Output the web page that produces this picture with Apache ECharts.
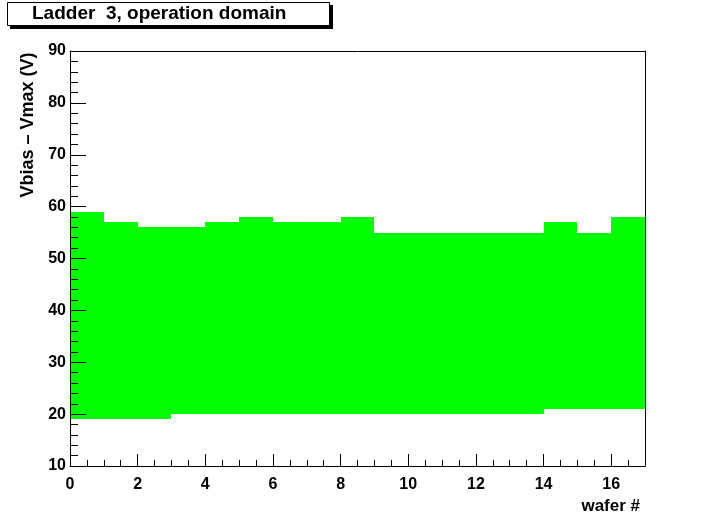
<!DOCTYPE html>
<html>
<head>
<meta charset="utf-8">
<script src="https://cdn.jsdelivr.net/npm/echarts@6/dist/echarts.min.js"></script>
<style>
html,body{margin:0;padding:0;background:#fff;}
#c{width:717px;height:519px;}
</style>
</head>
<body>
<div id="c"></div>
<script>
const titleText = "Ladder  3, operation domain";
const xTitle = "wafer #";
const yTitle = "Vbias \u2013 Vmax (V)";
const wafers = [0,1,2,3,4,5,6,7,8,9,10,11,12,13,14,15,16];
const upper = [59,57,56,56,57,58,57,57,58,55,55,55,55,55,57,55,58];
const lower = [19,19,19,20,20,20,20,20,20,20,20,20,20,20,21,21,21];

const FONT = "Liberation Sans";
const chart = echarts.init(document.getElementById('c'), null, {renderer:'canvas'});
const data = wafers.map((w,k)=>[w, lower[k], upper[k]]);
const axisCommon = {
  axisLine:{show:true, onZero:false, lineStyle:{color:'#000', width:1}},
  splitLine:{show:false}
};
chart.setOption({
  animation:false,
  backgroundColor:'#fff',
  grid:{left:70, top:51, width:575, height:415, show:false, containLabel:false},
  xAxis:[
    Object.assign({}, axisCommon, {
      type:'value', min:0, max:17, interval:2, position:'bottom', z:10,
      axisTick:{show:true, inside:true, length:12, lineStyle:{color:'#000'}},
      minorTick:{show:true, splitNumber:4, length:6, lineStyle:{color:'#000'}},
      axisLabel:{show:true, showMaxLabel:false, margin:11, color:'#000', fontFamily:FONT, fontWeight:'bold', fontSize:16}
    }),
    Object.assign({}, axisCommon, {
      type:'value', min:0, max:17, position:'top', z:10,
      axisTick:{show:false}, axisLabel:{show:false}
    })
  ],
  yAxis:[
    Object.assign({}, axisCommon, {
      type:'value', min:10, max:90, interval:10, position:'left', z:10,
      axisTick:{show:true, inside:true, length:16, lineStyle:{color:'#000'}},
      minorTick:{show:true, splitNumber:5, length:8, lineStyle:{color:'#000'}},
      axisLabel:{show:true, margin:4, color:'#000', fontFamily:FONT, fontWeight:'bold', fontSize:16}
    }),
    Object.assign({}, axisCommon, {
      type:'value', min:10, max:90, position:'right', z:10,
      axisTick:{show:false}, axisLabel:{show:false}
    })
  ],
  series:[{
    type:'custom',
    xAxisIndex:0, yAxisIndex:0,
    z:2,
    renderItem:function(params, api){
      const i = api.value(0), lo = api.value(1), hi = api.value(2);
      const p1 = api.coord([i, hi]);
      const p2 = api.coord([i+1, lo]);
      const x1 = Math.round(p1[0]), x2 = Math.round(p2[0]);
      const y1 = Math.round(p1[1]), y2 = Math.round(p2[1]);
      return {type:'rect', shape:{x:x1, y:y1, width:x2-x1, height:y2-y1},
        style:{fill:'#00ff00'}};
    },
    encode:{x:[0], y:[1,2]},
    data:data
  }],
  graphic:[
    {type:'rect', shape:{x:10, y:5, width:323, height:24}, style:{fill:'#000'}, z:100},
    {type:'rect', shape:{x:7.5, y:2.5, width:322, height:23}, style:{fill:'#fff', stroke:'#000', lineWidth:1}, z:101},
    {type:'text', x:32, y:14, z:102, style:{text:titleText, fontFamily:FONT, fontWeight:'bold', fontSize:19, fill:'#000', textVerticalAlign:'middle', textAlign:'left'}},
    {type:'text', x:28, y:125, rotation:Math.PI/2, z:102, style:{text:yTitle, fontFamily:FONT, fontWeight:'bold', fontSize:18, fill:'#000', textAlign:'center', textVerticalAlign:'middle'}},
    {type:'text', x:640, y:506, z:102, style:{text:xTitle, fontFamily:FONT, fontWeight:'bold', fontSize:17, fill:'#000', textAlign:'right', textVerticalAlign:'middle'}}
  ]
});
</script>
</body>
</html>
